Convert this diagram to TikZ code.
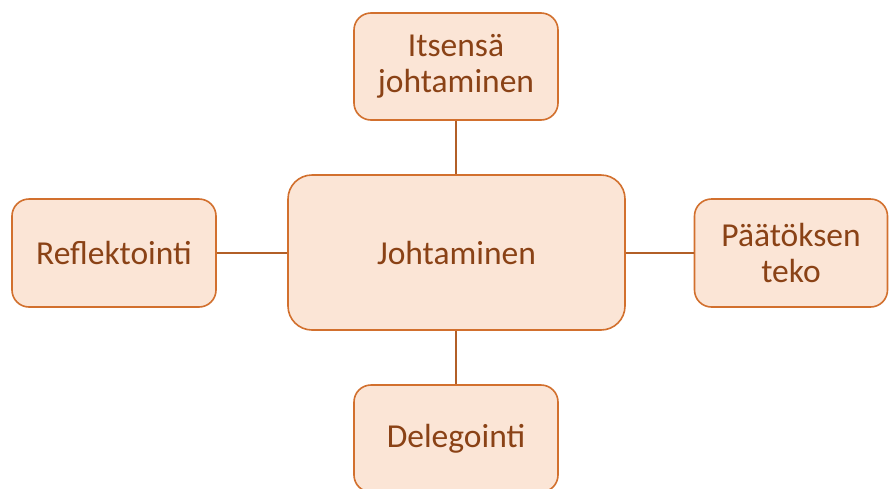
\documentclass[tikz,border=0pt]{standalone}
\usepackage{fontspec}
\setmainfont{Carlito}
\definecolor{boxfill}{HTML}{FBE5D6}
\definecolor{boxline}{HTML}{D2702E}
\definecolor{boxtext}{HTML}{8A4216}
\begin{document}
\begin{tikzpicture}[x=1pt,y=-1pt,
  mybox/.style={draw=boxline,line width=1.6pt,fill=boxfill,rounded corners=17pt,
    text=boxtext,font=\fontsize{33.5}{36}\selectfont,align=center,inner sep=0pt},
  link/.style={draw=boxline!85!black,line width=1.3pt}]
\useasboundingbox[fill=white] (0,0) rectangle (889,488);
\node[mybox,rounded corners=24pt,minimum width=337pt,minimum height=155pt] (c) at (456.5,252.5) {Johtaminen};
\node[mybox,minimum width=204pt,minimum height=107pt] (t) at (456,66.5) {Itsensä\\johtaminen};
\node[mybox,minimum width=204pt,minimum height=108pt] (l) at (114,253) {Reflektointi};
\node[mybox,minimum width=193pt,minimum height=108pt] (r) at (791,253) {Päätöksen\\teko};
\node[mybox,minimum width=204pt,minimum height=107pt] (b) at (456,438.5) {Delegointi};
\draw[link] (t.south) -- (c.north -| t.south);
\draw[link] (l.east) -- (c.west |- l.east);
\draw[link] (c.east |- r.west) -- (r.west);
\draw[link] (c.south -| b.north) -- (b.north);
\end{tikzpicture}
\end{document}
